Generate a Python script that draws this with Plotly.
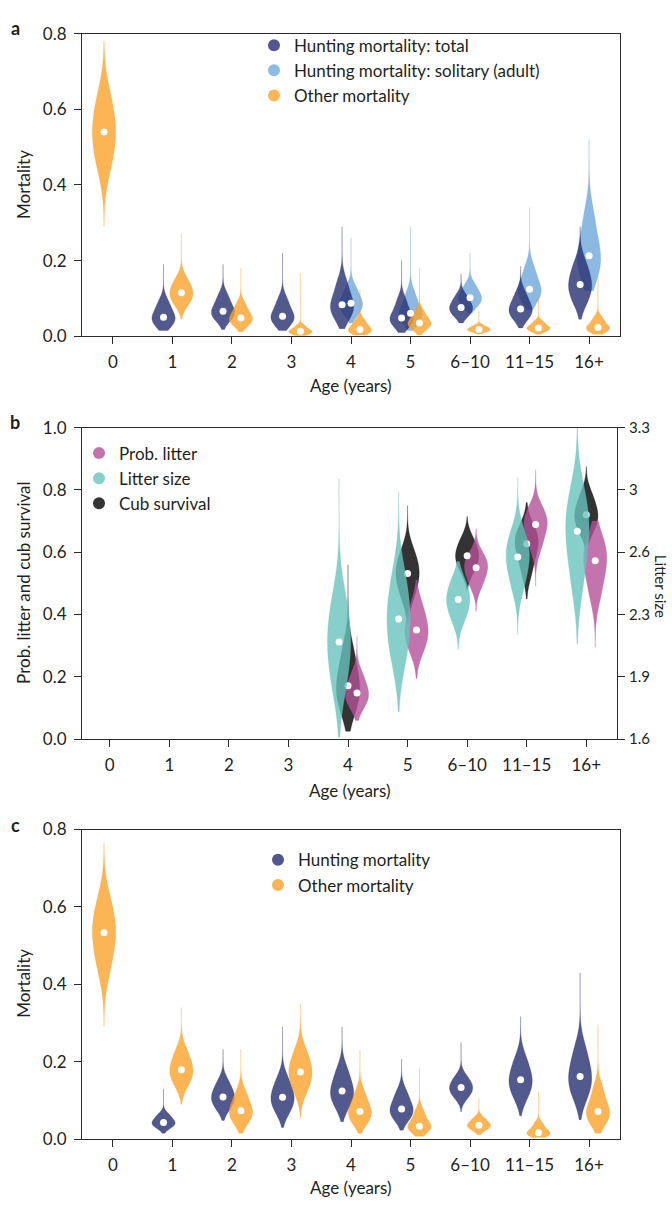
import plotly.graph_objects as go

# ---------------- data ----------------
AGE_LABELS = ["0", "1", "2", "3", "4", "5", "6–10", "11–15", "16+"]

# Panel a: posterior samples summarised by 5 equal-weight quantiles (10,30,50,70,90%)
A_TOTAL_AGES = [1, 2, 3, 4, 5, 6, 7, 8]
A_TOTAL_Q = [
    [0.029, 0.042, 0.050, 0.066, 0.090],
    [0.046, 0.058, 0.066, 0.082, 0.106],
    [0.033, 0.045, 0.053, 0.070, 0.096],
    [0.051, 0.070, 0.083, 0.105, 0.141],
    [0.031, 0.041, 0.048, 0.066, 0.094],
    [0.055, 0.068, 0.076, 0.088, 0.106],
    [0.048, 0.063, 0.072, 0.088, 0.113],
    [0.092, 0.119, 0.137, 0.159, 0.193],
]
A_TOTAL_SPAN = [[0.015, 0.19], [0.018, 0.19], [0.015, 0.22], [0.02, 0.29],
                [0.01, 0.2], [0.035, 0.165], [0.022, 0.185], [0.045, 0.29]]

A_SOLO_AGES = [4, 5, 6, 7, 8]
A_SOLO_Q = [
    [0.062, 0.077, 0.087, 0.103, 0.127],
    [0.039, 0.052, 0.061, 0.080, 0.110],
    [0.081, 0.094, 0.102, 0.115, 0.134],
    [0.095, 0.113, 0.124, 0.145, 0.178],
    [0.158, 0.191, 0.213, 0.253, 0.317],
]
A_SOLO_SPAN = [[0.035, 0.26], [0.015, 0.29], [0.06, 0.22], [0.07, 0.34], [0.12, 0.52]]

A_OTHER_AGES = [0, 1, 2, 3, 4, 5, 6, 7, 8]
A_OTHER_Q = [
    [0.448, 0.504, 0.540, 0.578, 0.635],
    [0.085, 0.103, 0.115, 0.129, 0.151],
    [0.032, 0.042, 0.048, 0.062, 0.083],
    [0.006, 0.010, 0.013, 0.018, 0.027],
    [0.009, 0.014, 0.018, 0.028, 0.043],
    [0.021, 0.030, 0.035, 0.046, 0.064],
    [0.012, 0.016, 0.018, 0.022, 0.028],
    [0.014, 0.019, 0.022, 0.028, 0.038],
    [0.014, 0.019, 0.023, 0.033, 0.048],
]
A_OTHER_SPAN = [[0.29, 0.78], [0.045, 0.27], [0.012, 0.18], [0.002, 0.165], [0.003, 0.125],
                [0.003, 0.18], [0.006, 0.065], [0.005, 0.105], [0.005, 0.16]]

# Panel b
B_AGES = [4, 5, 6, 7, 8]
B_CUB_Q = [
    [0.095, 0.141, 0.171, 0.216, 0.286],
    [0.457, 0.503, 0.532, 0.559, 0.602],
    [0.540, 0.570, 0.589, 0.610, 0.642],
    [0.537, 0.592, 0.627, 0.646, 0.675],
    [0.668, 0.700, 0.720, 0.745, 0.784],
]
B_CUB_SPAN = [[0.025, 0.56], [0.37, 0.75], [0.48, 0.715], [0.45, 0.76], [0.58, 0.875]]
B_SIZE_Q = [
    [1.878, 2.031, 2.130, 2.224, 2.370],
    [2.029, 2.167, 2.256, 2.350, 2.496],
    [2.253, 2.319, 2.362, 2.404, 2.469],
    [2.430, 2.530, 2.594, 2.645, 2.725],
    [2.450, 2.623, 2.735, 2.816, 2.942],
]
B_SIZE_SPAN = [[1.61, 3.02], [1.75, 2.95], [2.09, 2.57], [2.17, 3.03], [2.12, 3.3]]
B_PROB_Q = [
    [0.105, 0.131, 0.148, 0.171, 0.208],
    [0.286, 0.325, 0.350, 0.381, 0.429],
    [0.492, 0.528, 0.550, 0.567, 0.594],
    [0.614, 0.660, 0.689, 0.708, 0.738],
    [0.463, 0.530, 0.573, 0.601, 0.644],
]
B_PROB_SPAN = [[0.06, 0.33], [0.195, 0.51], [0.41, 0.675], [0.49, 0.865], [0.295, 0.70]]
B_RIGHT_TICKVALS = [1.6, 1.94, 2.28, 2.62, 2.96, 3.3]
B_RIGHT_TICKTEXT = ["1.6", "1.9", "2.3", "2.6", "3", "3.3"]

# Panel c
C_HUNT_AGES = [1, 2, 3, 4, 5, 6, 7, 8]
C_HUNT_Q = [
    [0.030, 0.038, 0.043, 0.051, 0.063],
    [0.080, 0.098, 0.109, 0.124, 0.147],
    [0.071, 0.094, 0.108, 0.126, 0.155],
    [0.087, 0.110, 0.124, 0.145, 0.178],
    [0.053, 0.068, 0.078, 0.095, 0.121],
    [0.108, 0.123, 0.133, 0.144, 0.161],
    [0.110, 0.136, 0.153, 0.174, 0.207],
    [0.111, 0.142, 0.162, 0.190, 0.233],
]
C_HUNT_SPAN = [[0.015, 0.13], [0.048, 0.232], [0.03, 0.29], [0.045, 0.29],
               [0.023, 0.207], [0.07, 0.25], [0.06, 0.317], [0.05, 0.43]]
C_OTHER_AGES = [0, 1, 2, 3, 4, 5, 6, 7, 8]
C_OTHER_Q = [
    [0.441, 0.497, 0.533, 0.565, 0.614],
    [0.142, 0.165, 0.179, 0.198, 0.227],
    [0.045, 0.062, 0.073, 0.091, 0.119],
    [0.126, 0.155, 0.173, 0.194, 0.226],
    [0.045, 0.061, 0.071, 0.089, 0.118],
    [0.021, 0.029, 0.033, 0.048, 0.071],
    [0.024, 0.032, 0.036, 0.043, 0.054],
    [0.009, 0.013, 0.016, 0.025, 0.039],
    [0.045, 0.061, 0.071, 0.094, 0.130],
]
C_OTHER_SPAN = [[0.29, 0.765], [0.09, 0.34], [0.015, 0.232], [0.055, 0.35], [0.015, 0.23],
                [0.007, 0.185], [0.011, 0.105], [0.004, 0.122], [0.015, 0.296]]

# ---------------- styling ----------------
W, H = 672, 1209
FONT = "Lato, 'Open Sans', sans-serif"
TXT = "#231f20"
ALPHA = 0.8
COL = {
    "total": (39, 47, 113), "solo": (111, 167, 217), "other": (250, 162, 42),
    "prob": (181, 81, 151), "size": (105, 195, 189), "cub": (0, 0, 0),
}
LEG = {
    "total": "#50588f", "solo": "#8cbde6", "other": "#fbb553",
    "prob": "#c474ac", "size": "#87cfca", "cub": "#333333",
}
VW = 0.39


def rgba(c, a):
    return "rgba(%d,%d,%d,%.2f)" % (c[0], c[1], c[2], a)


def px(x):
    return x / W


def py(y):
    return 1 - y / H


fig = go.Figure()


def add_series(ages, qs, spans, key, offset_fn, xa, ya):
    dx, dy = [], []
    for age, q, sp in zip(ages, qs, spans):
        pos = age + offset_fn(age)
        fig.add_trace(go.Violin(
            x=[pos] * len(q), y=q, xaxis=xa, yaxis=ya,
            width=VW, scalemode="width", spanmode="manual", span=sp,
            fillcolor=rgba(COL[key], ALPHA), line=dict(width=0.5, color=rgba(COL[key], 0.5)),
            points=False, box_visible=False, meanline_visible=False,
            showlegend=False, hoverinfo="skip", side="both",
        ))
        dx.append(pos)
        dy.append(sorted(q)[len(q) // 2])
    return dx, dy


def add_dots(dx, dy, xa, ya):
    fig.add_trace(go.Scatter(x=dx, y=dy, xaxis=xa, yaxis=ya, mode="markers",
                             marker=dict(color="white", size=7, line=dict(width=0)),
                             showlegend=False, hoverinfo="skip"))


def legend_entry(name, key, legend):
    fig.add_trace(go.Scatter(x=[None], y=[None], mode="markers", name=name, legend=legend,
                             marker=dict(color=LEG[key], size=12), xaxis="x", yaxis="y"))


# Panel a
d_solo = add_series(A_SOLO_AGES, A_SOLO_Q, A_SOLO_SPAN, "solo", lambda a: 0.0, "x", "y")
d_tot = add_series(A_TOTAL_AGES, A_TOTAL_Q, A_TOTAL_SPAN, "total", lambda a: -0.15, "x", "y")
d_oth = add_series(A_OTHER_AGES, A_OTHER_Q, A_OTHER_SPAN, "other",
                   lambda a: -0.15 if a == 0 else 0.15, "x", "y")
for d in (d_solo, d_tot, d_oth):
    add_dots(d[0], d[1], "x", "y")

# Panel b
d_cub = add_series(B_AGES, B_CUB_Q, B_CUB_SPAN, "cub", lambda a: 0.0, "x2", "y2")
d_prob = add_series(B_AGES, B_PROB_Q, B_PROB_SPAN, "prob", lambda a: 0.15, "x2", "y2")
d_size = add_series(B_AGES, B_SIZE_Q, B_SIZE_SPAN, "size", lambda a: -0.15, "x2", "y3")
add_dots(d_cub[0], d_cub[1], "x2", "y2")
add_dots(d_prob[0], d_prob[1], "x2", "y2")
add_dots(d_size[0], d_size[1], "x2", "y3")

# Panel c
d_hunt = add_series(C_HUNT_AGES, C_HUNT_Q, C_HUNT_SPAN, "total", lambda a: -0.15, "x3", "y4")
d_coth = add_series(C_OTHER_AGES, C_OTHER_Q, C_OTHER_SPAN, "other",
                    lambda a: -0.15 if a == 0 else 0.15, "x3", "y4")
add_dots(d_hunt[0], d_hunt[1], "x3", "y4")
add_dots(d_coth[0], d_coth[1], "x3", "y4")

# Legends
legend_entry("Hunting mortality: total", "total", "legend")
legend_entry("Hunting mortality: solitary (adult)", "solo", "legend")
legend_entry("Other mortality", "other", "legend")
legend_entry("Prob. litter", "prob", "legend2")
legend_entry("Litter size", "size", "legend2")
legend_entry("Cub survival", "cub", "legend2")
legend_entry("Hunting mortality", "total", "legend3")
legend_entry("Other mortality", "other", "legend3")

axis_common = dict(showline=True, linecolor="#2a2a2a", linewidth=1.2, mirror=True,
                   ticks="outside", ticklen=7, tickwidth=1.2, tickcolor="#2a2a2a",
                   showgrid=False, zeroline=False,
                   tickfont=dict(family=FONT, size=17, color=TXT))

xa_dom = [px(82), px(620)]
xb_dom = [px(82), px(617)]
xcommon = dict(axis_common, tickmode="array", tickvals=list(range(len(AGE_LABELS))),
               ticktext=AGE_LABELS, ticklabelstandoff=3)
ycommon = dict(axis_common, ticklabelstandoff=4)

leg_common = dict(bgcolor="rgba(0,0,0,0)", font=dict(family=FONT, size=17, color=TXT),
                  xanchor="left", yanchor="top", itemclick=False, tracegroupgap=0)

fig.update_layout(
    width=W, height=H, margin=dict(l=0, r=0, t=0, b=0),
    paper_bgcolor="white", plot_bgcolor="white",
    violinmode="overlay",
    font=dict(family=FONT, color=TXT),
    xaxis=dict(xcommon, domain=xa_dom, range=[-0.52, 8.52], anchor="y"),
    yaxis=dict(ycommon, domain=[py(331), py(23)], range=[0, 0.8],
               tickvals=[0, 0.2, 0.4, 0.6, 0.8], tickformat=".1f", anchor="x"),
    xaxis2=dict(xcommon, domain=xb_dom, range=[-0.466, 8.516], anchor="y2"),
    yaxis2=dict(ycommon, domain=[py(741), py(424)], range=[0, 1.0],
                tickvals=[0, 0.2, 0.4, 0.6, 0.8, 1.0], tickformat=".1f", anchor="x2"),
    yaxis3=dict(ycommon, overlaying="y2", side="right", anchor="x2", range=[1.6, 3.3],
                tickvals=B_RIGHT_TICKVALS, ticktext=B_RIGHT_TICKTEXT, mirror=False,
                ticklabelstandoff=1, tickfont=dict(family=FONT, size=15, color=TXT)),
    xaxis3=dict(xcommon, domain=xa_dom, range=[-0.52, 8.52], anchor="y4"),
    yaxis4=dict(ycommon, domain=[py(1148), py(833)], range=[0, 0.8],
                tickvals=[0, 0.2, 0.4, 0.6, 0.8], tickformat=".1f", anchor="x3"),
    legend=dict(leg_common, x=px(254), y=py(17)),
    legend2=dict(leg_common, x=px(79), y=py(432)),
    legend3=dict(leg_common, x=px(258), y=py(846)),
)

annots = [
    ("a", 15, 17, 0, True, 18), ("b", 15, 418, 0, True, 18), ("c", 15, 828, 0, True, 18),
    ("Mortality", 24, 177, -90, False, 17),
    ("Age (years)", 351, 381, 0, False, 17),
    ("Prob. litter and cub survival", 24, 582, -90, False, 17),
    ("Litter size", 661, 585, 90, False, 15),
    ("Age (years)", 350, 793, 0, False, 17),
    ("Mortality", 24, 990, -90, False, 17),
    ("Age (years)", 351, 1197, 0, False, 17),
]
for text, x, y, ang, bold, fs in annots:
    fig.add_annotation(text=("<b>%s</b>" % text) if bold else text, x=px(x), y=py(y),
                       xref="paper", yref="paper", showarrow=False, textangle=ang,
                       xanchor="center", yanchor="middle",
                       font=dict(family=FONT, size=fs, color=TXT))

fig.write_html("out.html", config={"displayModeBar": False},
               post_script="document.body.style.margin='0';document.body.style.overflow='hidden';")
